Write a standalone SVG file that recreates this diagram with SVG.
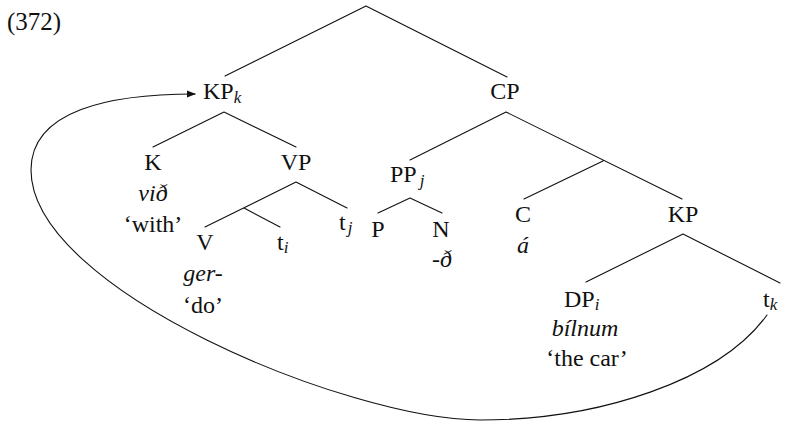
<svg xmlns="http://www.w3.org/2000/svg" width="788" height="421" viewBox="0 0 788 421" font-family="'Liberation Serif', 'Times New Roman', Times, serif">
<defs>
<style>
text{font-family:'Liberation Serif','Times New Roman',Times,serif;font-size:24px;fill:#111;}
.it{font-style:italic;}
.sub{font-style:italic;font-size:17px;}
.m{text-anchor:middle;}
.ln{stroke:#111;stroke-width:1.1;fill:none;stroke-linecap:round;}
</style>
<marker id="arr" viewBox="0 0 10 10" refX="9" refY="5" markerWidth="9" markerHeight="9" markerUnits="userSpaceOnUse" orient="auto">
<path d="M0,1 L10,5 L0,9 Z" fill="#111"/>
</marker>
</defs>
<rect width="788" height="421" fill="#fff"/>
<text x="7" y="30" style="font-size:25px">(372)</text>
<g id="connectors">
<path class="ln" d="M366,6 L225,76 M366,6 L507,77"/>
<path class="ln" d="M224,112 L153,147 M224,112 L296,147"/>
<path class="ln" d="M296,182 L205,227 M296,182 L347,208 M244,208 L280,227"/>
<path class="ln" d="M506,112 L410,160 M506,112 L682,199 M603,161 L524,199"/>
<path class="ln" d="M410,198 L378,213 M410,198 L442,213"/>
<path class="ln" d="M683,234 L586,282 M683,234 L780,283"/>
<path class="ln" marker-end="url(#arr)" d="M767,315 C720,380 600,420 480,420 C350,420 31,290 31,170 C31,110 110,94 195,94"/>
</g>
<g id="n-kpk"><text x="203" y="99">KP<tspan class="sub" dy="4">k</tspan></text></g>
<g id="n-cp"><text class="m" x="505" y="99">CP</text></g>
<g id="n-k"><text class="m" x="153" y="170">K</text><text class="m it" x="153" y="201">við</text><text class="m" x="153" y="232">‘with’</text></g>
<g id="n-vp"><text class="m" x="296" y="170">VP</text></g>
<g id="n-v"><text class="m" x="205" y="250">V</text><text class="m it" x="203" y="281">ger-</text><text class="m" x="203" y="313">‘do’</text></g>
<g id="n-ti"><text x="277" y="250">t<tspan class="sub" dy="3">i</tspan></text></g>
<g id="n-tj"><text x="339" y="230">t<tspan class="sub" dy="3" dx="2">j</tspan></text></g>
<g id="n-ppj"><text x="390" y="182">PP<tspan class="sub" dy="4" dx="3">j</tspan></text></g>
<g id="n-p"><text class="m" x="378" y="237">P</text></g>
<g id="n-n"><text class="m" x="441" y="237">N</text><text class="m it" x="442" y="267">-ð</text></g>
<g id="n-c"><text class="m" x="523" y="222">C</text><text class="m it" x="523" y="253">á</text></g>
<g id="n-kp"><text class="m" x="683" y="222">KP</text></g>
<g id="n-dpi"><text x="564" y="307">DP<tspan class="sub" dy="3">i</tspan></text><text class="m it" x="585" y="336">bílnum</text><text class="m" x="587" y="366">‘the car’</text></g>
<g id="n-tk"><text x="763" y="307">t<tspan class="sub" dy="3">k</tspan></text></g>
</svg>
